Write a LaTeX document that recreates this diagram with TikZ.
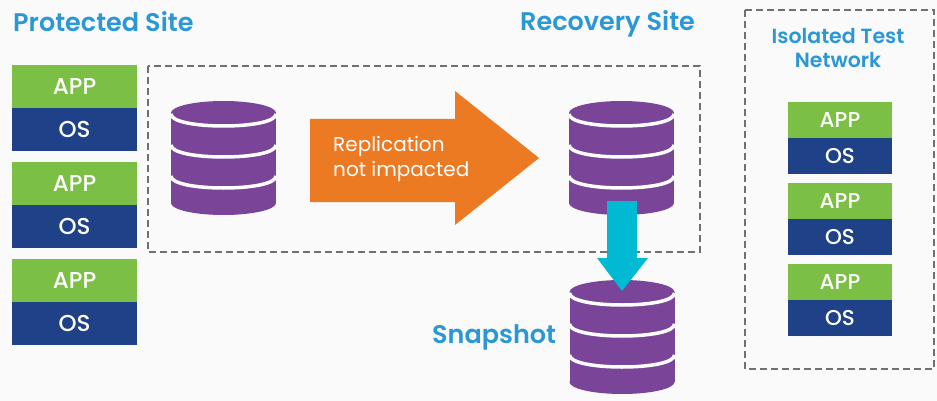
\documentclass[tikz,border=0pt]{standalone}
\usepackage{fontspec}
\setmainfont{Poppins}
\newfontfamily\medfont{Poppins Medium}
\newfontfamily\semifont{Poppins SemiBold}
\definecolor{bgc}{HTML}{FAFAFA}
\definecolor{appg}{HTML}{7BBF44}
\definecolor{osb}{HTML}{1F4188}
\definecolor{dbp}{HTML}{7A4499}
\definecolor{arrowo}{HTML}{EB7A23}
\definecolor{arrowc}{HTML}{00B9D3}
\definecolor{ttl}{HTML}{2B98D5}
\definecolor{dashc}{HTML}{707070}
\tikzset{
  appbox/.style={fill=appg, text=white, inner sep=0pt, minimum width=125pt, minimum height=43pt, font=\medfont\fontsize{23}{23}\selectfont},
  osbox/.style={appbox, fill=osb},
  appsm/.style={appbox, minimum width=104pt, minimum height=36pt, font=\medfont\fontsize{21.5}{21.5}\selectfont},
  ossm/.style={appsm, fill=osb},
  titletext/.style={text=ttl, inner sep=0pt, font=\semifont\fontsize{25.5}{25.5}\selectfont},
  grouptext/.style={text=ttl, inner sep=0pt, align=center, font=\semifont\fontsize{20.5}{24}\selectfont},
  frame/.style={draw=dashc, line width=1.5pt, dash pattern=on 7pt off 4pt},
  band/.style={draw=white, line width=3.5pt},
}
% cylinder: center x, top-ellipse center y
\newcommand{\dbcyl}[3]{%
  \fill[dbp] (#1-52.5,#2) rectangle (#1+52.5,#2+90);
  \fill[dbp] (#1,#2) ellipse [x radius=52.5, y radius=12];
  \fill[dbp] (#1,#2+90) ellipse [x radius=52.5, y radius=12];
  \foreach \k in {1,32,63}{
    \draw[band] (#1-52.5,#2+\k) .. controls (#1-52.5,#2+\k+16) and (#1+52.5,#2+\k+16) .. (#1+52.5,#2+\k);
  }
  \coordinate (#3) at (#1,#2+45);
}
\begin{document}
\begin{tikzpicture}[x=1pt,y=-1pt]
\fill[bgc] (0,0) rectangle (937,401);
\useasboundingbox (0,0) rectangle (937,401);

% titles
\node[titletext, anchor=base west] (prot) at (13,32) {Protected Site};
\node[titletext, anchor=base west] (reco) at (520,31) {Recovery Site};
\node[titletext, anchor=base west] (snap) at (432,343) {Snapshot};

% frames
\draw[frame] (148,66) rectangle (700,252);
\draw[frame] (745,10) rectangle (934,369);
\node[grouptext, anchor=base] (iso) at (838,44) {Isolated Test};
\node[grouptext, anchor=base] (net) at (838,68) {Network};

% left VMs
\foreach \i/\y in {1/65,2/162,3/259}{
  \node[appbox] (app\i) at (74.5,\y+21.5) {APP};
  \node[osbox]  (os\i)  at (74.5,\y+64.5) {OS};
}
% right VMs
\foreach \i/\y in {1/102,2/183,3/264}{
  \node[appsm] (tapp\i) at (840,\y+18) {APP};
  \node[ossm]  (tos\i)  at (840,\y+54) {OS};
}

% databases
\dbcyl{223.5}{113}{db1}
\dbcyl{621.5}{113}{db2}
\dbcyl{622}{292}{db3}

% orange arrow
\fill[arrowo] (310,119) -- (455,119) -- (455,91) -- (539,158) -- (455,225) -- (455,202) -- (310,202) -- cycle;
\node[text=white, inner sep=0pt, anchor=base west, font=\fontsize{20}{20}\selectfont] (rep1) at (333,151) {Replication};
\node[text=white, inner sep=0pt, anchor=base west, font=\fontsize{20}{20}\selectfont] (rep2) at (333,176) {not impacted};

% cyan arrow
\fill[arrowc] (607,201) -- (637,201) -- (637,258) -- (648,258) -- (622,291) -- (597,258) -- (607,258) -- cycle;
\end{tikzpicture}
\end{document}
